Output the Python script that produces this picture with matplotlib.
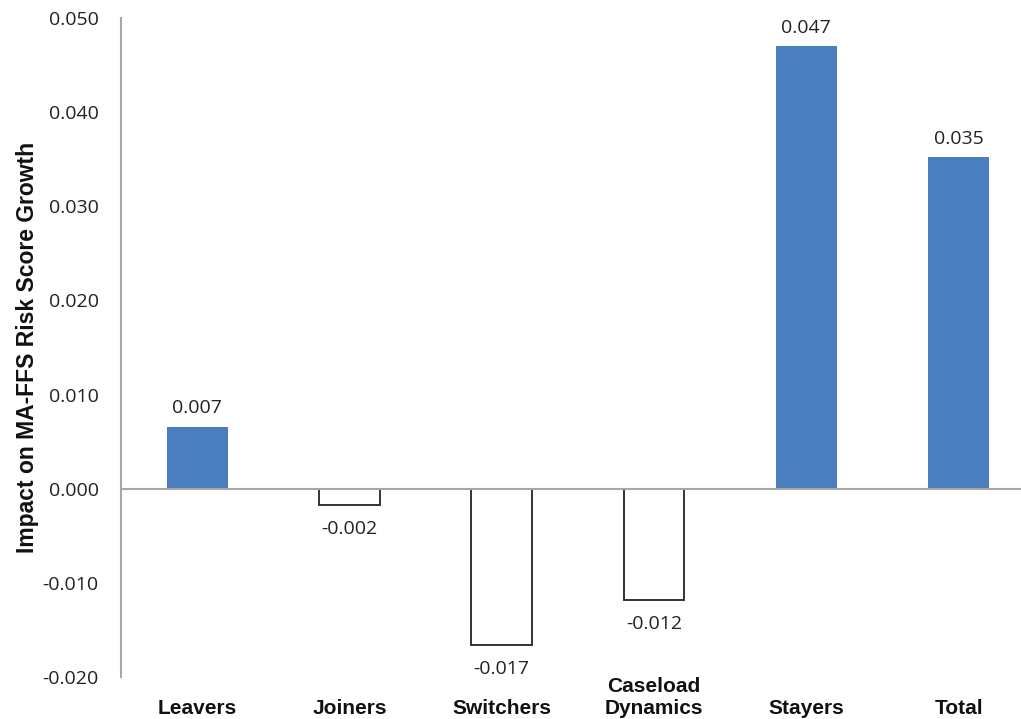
import numpy as np
import matplotlib
matplotlib.use("Agg")
import matplotlib.pyplot as plt
import matplotlib.transforms as mtransforms

# Contribution of each group to MA-FFS risk score growth
categories = ["Leavers", "Joiners", "Switchers", "Caseload\nDynamics", "Stayers", "Total"]
impact = [0.0066, -0.0017, -0.0166, -0.0118, 0.0470, 0.0352]
yticks = [-0.020, -0.010, 0.000, 0.010, 0.020, 0.030, 0.040, 0.050]

blue = "#4A7EBE"
grey = "#A6A6A6"
num_font = "Open Sans"
cat_font = "Liberation Sans"

fig = plt.figure(figsize=(10.21, 7.19), dpi=100)
ax = fig.add_axes([121 / 1021, 42 / 719, 900 / 1021, 659 / 719])

x = np.arange(len(categories))
for xi, v in zip(x, impact):
    if v >= 0:
        ax.bar(xi, v, width=0.4, color=blue, edgecolor="none", zorder=2)
    else:
        ax.bar(xi, v, width=0.4, color="white", edgecolor="#333333", linewidth=1.4, zorder=2)
    off = 7 if v >= 0 else -11
    ax.annotate(f"{v:.3f}", (xi, v), xytext=(0, off), textcoords="offset points",
                ha="center", va="bottom" if v >= 0 else "top",
                fontsize=14, family=num_font, color="#222222")

ax.axhline(0, color=grey, linewidth=1.5, zorder=3)
ax.set_xlim(-0.5, 5.41)
ax.set_ylim(-0.020, 0.050)

ax.set_yticks(yticks)
ax.set_yticklabels([f"{t:.3f}" for t in yticks], family=num_font, fontsize=14, color="#222222")
ax.tick_params(axis="y", length=0, pad=16)
ax.set_xticks([])

for s in ["top", "right", "bottom"]:
    ax.spines[s].set_visible(False)
ax.spines["left"].set_color(grey)
ax.spines["left"].set_linewidth(1.5)

# category names sit below the plot, bottom-aligned
trans = mtransforms.blended_transform_factory(ax.transData, ax.transAxes)
for xi, name in zip(x, categories):
    ax.text(xi, -0.062, name, transform=trans, ha="center", va="bottom",
            fontsize=15, family=cat_font, weight="bold", color="#111111", linespacing=1.2)

ax.set_ylabel("Impact on MA-FFS Risk Score Growth", fontsize=16.5, family=cat_font,
              weight="bold", color="#111111")
ax.yaxis.set_label_coords(-0.091, 0.5)

fig.savefig("out.png", dpi=100, facecolor="white")
